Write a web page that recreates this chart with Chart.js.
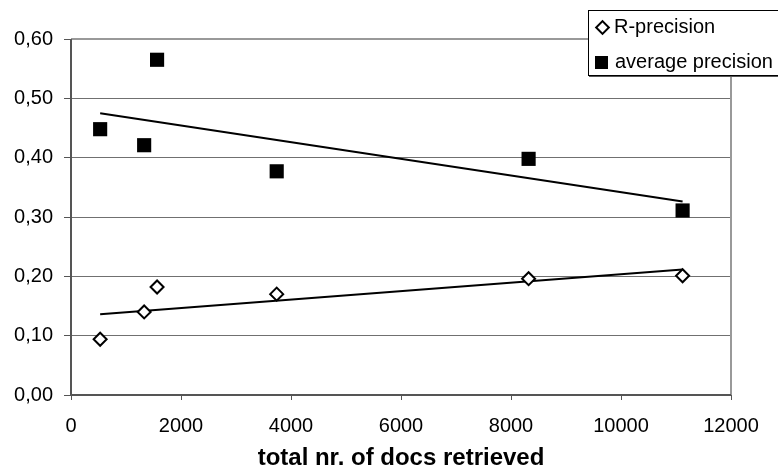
<!DOCTYPE html>
<html>
<head>
<meta charset="utf-8">
<script src="https://cdn.jsdelivr.net/npm/chart.js@4"></script>
<style>
  html, body { margin: 0; padding: 0; background: #fff; }
  #wrap { position: relative; width: 778px; height: 474px; overflow: hidden; }
  #c { position: absolute; left: 0; top: 0; }
  #legend {
    position: absolute; left: 588px; top: 10px; width: 200px; height: 64px;
    border: 1px solid #000; background: #fff; box-shadow: 1px 1px 0 #555;
    font-family: 'Liberation Sans', Arial, sans-serif; font-size: 20px; color: #000;
  }
  .item { position: absolute; left: 0; white-space: nowrap; line-height: 24px; }
  .lbl { position: absolute; white-space: nowrap; }
  .dia { position: absolute; width: 7px; height: 7px; border: 2px solid #000; background: #fff; transform: rotate(45deg); }
  .sq { position: absolute; width: 13px; height: 13px; background: #000; }
</style>
</head>
<body>
<div id="wrap">
  <canvas id="c" width="778" height="474"></canvas>
  <div id="legend">
    <span class="dia" style="left:8px; top:11px;"></span>
    <span class="lbl" style="left:25px; top:4px;">R-precision</span>
    <span class="sq" style="left:6px; top:45px;"></span>
    <span class="lbl" style="left:26px; top:39px;">average precision</span>
  </div>
</div>
<script>
// ---- data ----
const docsRetrieved = [530, 1330, 1565, 3740, 8320, 11120];
const rPrecision     = [0.094, 0.140, 0.182, 0.170, 0.196, 0.201];
const avgPrecision   = [0.448, 0.421, 0.565, 0.377, 0.398, 0.311];
const seriesNames    = ['R-precision', 'average precision'];
const xTicks = [0, 2000, 4000, 6000, 8000, 10000, 12000];
const yTicks = [0, 0.1, 0.2, 0.3, 0.4, 0.5, 0.6];
const xTitle = 'total nr. of docs retrieved';

function pts(xs, ys) { return xs.map((x, i) => ({ x: x, y: ys[i] })); }
// least-squares trend line drawn between the smallest and largest x
function trend(xs, ys) {
  const n = xs.length;
  const mx = xs.reduce((a, b) => a + b, 0) / n;
  const my = ys.reduce((a, b) => a + b, 0) / n;
  let sxy = 0, sxx = 0;
  for (let i = 0; i < n; i++) { sxy += (xs[i] - mx) * (ys[i] - my); sxx += (xs[i] - mx) ** 2; }
  const b = sxy / sxx, a = my - b * mx;
  const x0 = Math.min(...xs), x1 = Math.max(...xs);
  return [{ x: x0, y: a + b * x0 }, { x: x1, y: a + b * x1 }];
}

const FONT = "'Liberation Sans', Arial, sans-serif";

const frame = {
  id: 'frame',
  afterDatasetsDraw(chart) {
    const { ctx, chartArea: a } = chart;
    ctx.save();
    ctx.strokeStyle = '#999';
    ctx.lineWidth = 2;
    ctx.beginPath();
    ctx.moveTo(a.left, a.top); ctx.lineTo(a.right, a.top); ctx.lineTo(a.right, a.bottom);
    ctx.stroke();
    ctx.strokeStyle = '#555';
    ctx.lineWidth = 2;
    ctx.beginPath();
    ctx.moveTo(a.left, a.top); ctx.lineTo(a.left, a.bottom); ctx.lineTo(a.right, a.bottom);
    ctx.stroke();
    ctx.restore();
  }
};

new Chart(document.getElementById('c'), {
  type: 'scatter',
  data: {
    datasets: [
      { label: seriesNames[1] + ' trend', data: trend(docsRetrieved, avgPrecision), showLine: true,
        borderColor: '#000', borderWidth: 2, pointRadius: 0, order: 2 },
      { label: seriesNames[0] + ' trend', data: trend(docsRetrieved, rPrecision), showLine: true,
        borderColor: '#000', borderWidth: 2, pointRadius: 0, order: 2 },
      { label: seriesNames[0], data: pts(docsRetrieved, rPrecision), pointStyle: 'rectRot',
        pointRadius: 6.5, pointBorderWidth: 2, borderColor: '#000', backgroundColor: '#fff', order: 1 },
      { label: seriesNames[1], data: pts(docsRetrieved, avgPrecision), pointStyle: 'rect',
        pointRadius: 10, pointBorderWidth: 0, borderColor: '#000', backgroundColor: '#000', order: 1 }
    ]
  },
  options: {
    responsive: false,
    animation: false,
    devicePixelRatio: 1,
    layout: { padding: { left: 0, right: 47, top: 39, bottom: 0 } },
    plugins: { legend: { display: false }, tooltip: { enabled: false } },
    scales: {
      x: {
        type: 'linear', min: xTicks[0], max: xTicks[xTicks.length - 1],
        afterFit(s) { s.height = 79; },
        afterBuildTicks(s) { s.ticks = xTicks.map(v => ({ value: v })); },
        border: { display: false },
        grid: { drawOnChartArea: false, drawTicks: true, tickLength: 5, tickColor: '#555', lineWidth: 1 },
        ticks: { color: '#000', padding: 14, font: { family: FONT, size: 20 }, maxRotation: 0,
                 callback: v => String(v) },
        title: { display: true, text: xTitle, color: '#000', padding: { top: 0, bottom: 1 },
                 font: { family: FONT, size: 24, weight: 'bold' } }
      },
      y: {
        type: 'linear', min: yTicks[0], max: yTicks[yTicks.length - 1],
        afterFit(s) { s.width = 71; },
        afterBuildTicks(s) { s.ticks = yTicks.map(v => ({ value: v })); },
        border: { display: false },
        grid: { color: '#707070', lineWidth: 1, drawTicks: true, tickLength: 7, tickColor: '#555' },
        ticks: { color: '#000', padding: 11, font: { family: FONT, size: 20 },
                 callback: v => (Math.round(v * 100) / 100).toFixed(2).replace('.', ',') }
      }
    }
  },
  plugins: [frame]
});
</script>
</body>
</html>
